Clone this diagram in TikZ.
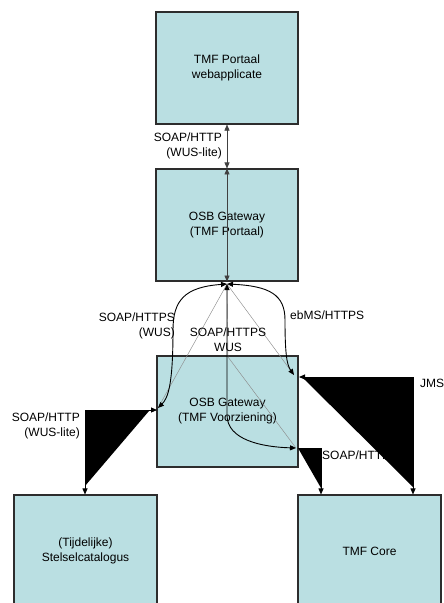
\documentclass[tikz,border=0pt]{standalone}
\usepackage{fontspec}
\setmainfont{Liberation Sans}
\usetikzlibrary{arrows.meta,calc}
\definecolor{boxfill}{RGB}{186,223,226}
\definecolor{boxline}{RGB}{45,45,45}
\begin{document}
\begin{tikzpicture}[x=1pt,y=-1pt,
  box/.style={draw=boxline,line width=1.1pt,fill=boxfill,minimum width=142pt,minimum height=112pt,inner sep=0pt,align=center,font=\fontsize{12}{15}\selectfont},
  lbl/.style={inner sep=0pt,font=\fontsize{12}{15}\selectfont},
  conn/.style={draw=black,line width=0.9pt},
  faint/.style={draw=black!45,line width=0.45pt},
  vline/.style={draw=black!75,line width=0.6pt},
  biarrow/.style={{Triangle[length=6pt,width=5pt]}-{Triangle[length=6pt,width=5pt]}},
  endarrow/.style={-{Triangle[length=6pt,width=5pt]}}]
\useasboundingbox (0,0) rectangle (444,603);
% boxes
\node[box] (b1) at (227,68) {TMF Portaal\\webapplicate};
\node[box] (b2) at (227,225) {OSB Gateway\\(TMF Portaal)};
\node[box,minimum width=141pt,minimum height=111pt] (b3) at (227.5,411.5) {OSB Gateway\\(TMF Voorziening)};
\node[box,minimum width=143pt] (b4) at (85.5,551) {(Tijdelijke)\\Stelselcatalogus};
\node[box,minimum width=143pt] (b5) at (369.5,551) {TMF Core};
% points
\coordinate (j) at (227,284);
\coordinate (cL) at (158,408);
\coordinate (cR) at (294,375);
\coordinate (cM) at (296,448);
\coordinate (mB) at (228,357);
\coordinate (pL) at (157,410);
\coordinate (kL) at (85,410);
\coordinate (pS) at (298,448);
\coordinate (kS) at (321,448);
\coordinate (pJ) at (299,377);
\coordinate (kJ) at (413,377);
% vertical connectors at the top
\draw[vline,biarrow] (b1.south) -- (b2.north);
\draw[vline,biarrow] (b2.north) -- (b2.south);
% faint straight lines
\draw[faint] (j) -- (cL);
\draw[faint] (j) -- (cR);
\draw[faint] (j) -- (mB) -- (cM);
% curved connectors
\draw[conn,biarrow] (j) .. controls (185,287) and (173,300) .. (173,330) .. controls (173,385) and (168,398) .. (cL);
\draw[conn,biarrow] (j) .. controls (270,286) and (285,295) .. (285,320) .. controls (285,355) and (287,365) .. (cR);
\draw[conn,biarrow] (j) -- (227,415) .. controls (227,440) and (262,447) .. (cM);
% labels
\node[lbl,anchor=east,align=right] (l1) at (222,146) {SOAP/HTTP\\(WUS-lite)};
\node[lbl,anchor=east,align=right] (l2) at (175,326) {SOAP/HTTPS\\(WUS)};
\node[lbl,align=center] (l3) at (228,340) {SOAP/HTTPS\\WUS};
\node[lbl,anchor=west] (l4) at (290,315) {ebMS/HTTPS};
\node[lbl,anchor=east,align=right] (l5) at (80,426) {SOAP/HTTP\\(WUS-lite)};
\node[lbl,anchor=west] (l6) at (420,383) {JMS};
% elbow connectors with their filled wedges
\fill[black] (149,411) -- (85,411) -- (85,486) -- cycle;
\draw[conn,biarrow] (pL) -- (kL) -- (kL |- b4.north);
\fill[black] (298,448) -- (321,448) -- (321,488) -- cycle;
\draw[conn,endarrow] (pS) -- (kS) -- (kS |- b5.north);
\node[lbl,anchor=west] (l7) at (322,455) {SOAP/HTTP};
\fill[black] (302,377) -- (413,377) -- (413,487) -- cycle;
\draw[conn,biarrow] (pJ) -- (kJ) -- (kJ |- b5.north);
\end{tikzpicture}
\end{document}
